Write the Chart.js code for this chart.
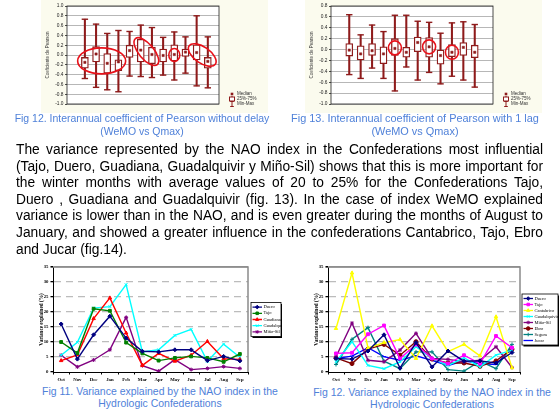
<!DOCTYPE html>
<html>
<head>
<meta charset="utf-8">
<script src="https://cdn.jsdelivr.net/npm/chart.js@4.4.0/dist/chart.umd.min.js"></script>
<style>
  body { margin: 0; width: 559px; height: 409px; background: #fff; position: relative; overflow: hidden;
         font-family: Arial, "Liberation Sans", sans-serif; }
  canvas { position: absolute; }
  .cap { position: absolute; color: #4f81d9; text-align: center; white-space: nowrap; }
  #para { position: absolute; left: 16px; top: 142px; width: 527px; line-height: 16.6px; color: #000; }
  #para div { text-align: justify; text-align-last: justify; }
  #para div.last { text-align-last: left; }
</style>
</head>
<body>
<canvas id="pearson0" width="227" height="113" style="left:41px;top:0px"></canvas>
<canvas id="pearson1" width="237" height="113" style="left:305px;top:0px"></canvas>
<div class="cap" id="capA" style="left:0;width:284px;top:112px;line-height:13px">Fig 12. Interannual coefficient of Pearson without delay<br>(WeMO vs Qmax)</div>
<div class="cap" id="capB" style="left:274px;width:282px;top:112px;line-height:13px">Fig 13. Interannual coefficient of Pearson with 1 lag<br>(WeMO vs Qmax)</div>

<div id="para">
  <div>The variance represented by the NAO index in the Confederations most influential</div>
  <div>(Tajo, Duero, Guadiana, Guadalquivir y Miño-Sil) shows that this is more important for</div>
  <div>the winter months with average values of 20 to 25% for the Confederations Tajo,</div>
  <div>Duero , Guadiana and Guadalquivir (fig. 13). In the case of index WeMO explained</div>
  <div>variance is lower than in the NAO, and is even greater during the months of August to</div>
  <div>January, and showed a greater influence in the confederations Cantabrico, Tajo, Ebro</div>
  <div class="last">and Jucar (fig.14).</div>
</div>

<canvas id="naoA" width="262" height="124" style="left:20px;top:262px"></canvas>
<canvas id="naoB" width="269" height="124" style="left:290px;top:262px"></canvas>
<div class="cap" id="capC" style="left:20px;width:280px;top:386px;line-height:12px">Fig 11. Variance explained by the NAO index in the<br>Hydrologic Confederations</div>
<div class="cap" id="capD" style="left:292px;width:280px;top:386px;line-height:12px">Fig 12. Variance explained by the NAO index in the<br>Hydrologic Confederations</div>

<script>
// month labels
const monthsEs = ['Oct', 'Nov', 'Dic', 'Ene', 'Feb', 'Mar', 'Abr', 'May', 'Jun', 'Jul', 'Ago', 'Sep'];
const monthsEn = ['Oct', 'Nov', 'Dec', 'Jan', 'Feb', 'Mar', 'Apr', 'May', 'Jun', 'Jul', 'Aug', 'Sep'];

// Fig 12 (top) - Pearson coefficient without delay
const lag0Min = [-0.48, -0.66, -0.71, -0.75, -0.43, -0.44, -0.46, -0.41, -0.51, -0.37, -0.63, -0.67];
const lag0Q1  = [-0.27, -0.14, -0.37, -0.32, -0.05, -0.14, -0.18, -0.14, -0.12, -0.03, -0.10, -0.27];
const lag0Med = [-0.15, 0.02, -0.17, -0.14, 0.09, 0.10, 0.01, -0.01, 0.01, 0.06, 0.05, -0.13];
const lag0Q3  = [-0.05, 0.17, 0.03, -0.10, 0.20, 0.32, 0.16, 0.12, 0.21, 0.12, 0.21, -0.05];
const lag0Max = [0.73, 0.63, 0.44, 0.50, 0.48, 0.61, 0.56, 0.36, 0.47, 0.37, 0.80, 0.37];

// Fig 13 - Pearson coefficient with 1 lag
const lag1Min = [-0.46, -0.53, -0.34, -0.53, -0.76, -0.32, -0.56, -0.42, -0.63, -0.49, -0.56, -0.69];
const lag1Q1  = [-0.12, -0.19, -0.11, -0.26, -0.11, -0.14, -0.04, -0.14, -0.27, -0.13, -0.11, -0.15];
const lag1Med = [-0.01, -0.08, -0.02, -0.08, 0.02, -0.05, 0.13, 0.05, -0.11, -0.05, 0.04, -0.05];
const lag1Q3  = [0.11, 0.07, 0.11, 0.05, 0.20, 0.04, 0.23, 0.22, -0.01, 0.09, 0.13, 0.08];
const lag1Max = [0.64, 0.27, 0.45, 0.33, 0.63, 0.63, 0.52, 0.50, 0.30, 0.49, 0.51, 0.46];

// Fig 11 - variance explained by NAO (%)
const naoDuero        = [16.0, 4.3, 12.4, 18.6, 11.3, 6.9, 6.7, 7.4, 7.4, 3.8, 5.2, 3.7];
const naoTajo         = [10.0, 6.3, 21.1, 20.4, 9.8, 6.2, 3.8, 4.7, 5.2, 4.7, 3.4, 6.0];
const naoGuadiana     = [3.8, 5.7, 17.8, 24.7, 13.0, 2.2, 6.2, 3.6, 5.6, 10.2, 4.4, 4.2];
const naoGuadalquivir = [5.6, 9.9, 21.3, 21.8, 29.1, 6.7, 7.4, 12.2, 14.2, 3.6, 9.3, 4.9];
const naoMinoSil      = [5.6, 1.7, 4.0, 7.4, 18.2, 2.1, 0.3, 4.1, 0.8, 1.2, 1.8, 1.2];

// second Fig 12 - variance explained, all confederations (%)
const wDuero        = [4.5, 4.3, 7.0, 12.4, 1.3, 9.8, 1.7, 7.0, 3.6, 3.7, 3.0, 6.5];
const wTajo         = [6.2, 6.4, 12.6, 15.5, 4.5, 9.2, 4.5, 2.8, 5.6, 2.8, 12.0, 8.1];
const wCantabrico   = [14.5, 33.0, 8.0, 9.8, 10.8, 4.5, 15.4, 6.8, 9.2, 5.4, 18.4, 1.4];
const wGuadalquivir = [3.4, 10.1, 2.2, 1.1, 3.4, 8.4, 4.5, 2.2, 4.7, 1.7, 5.6, 7.3];
const wMinoSil      = [5.1, 16.3, 3.9, 3.4, 7.3, 12.9, 4.5, 4.2, 3.4, 3.9, 8.4, 1.5];
const wEbro         = [4.7, 2.8, 7.6, 9.2, 5.6, 10.1, 4.3, 3.0, 3.0, 1.9, 3.7, 7.6];
const wSegura       = [2.5, 10.9, 14.8, 3.6, 1.1, 6.7, 6.7, 0.8, 0.3, 3.6, 1.1, 9.2];
const wJucar        = [4.5, 5.3, 8.1, 5.1, 3.9, 5.4, 3.9, 2.2, 3.7, 2.8, 2.5, 8.1];

const BOX = '#8e1b1b';

// --- fit text to the page widths ---
function textWidth(str, px) {
  const c = document.createElement('canvas').getContext('2d');
  c.font = px + 'px Arial, "Liberation Sans"';
  return c.measureText(str).width;
}
const paraLines = [...document.querySelectorAll('#para div')].map(d => d.textContent);
let paraSize = Math.min(...paraLines.slice(0, 6).map(t => 100 * 527 / textWidth(t, 100))) * 0.99;
document.getElementById('para').style.fontSize = paraSize.toFixed(2) + 'px';
function fitCap(id, target) {
  const el = document.getElementById(id);
  const first = el.innerHTML.split('<br>')[0];
  el.style.fontSize = (100 * target / textWidth(first, 100)).toFixed(2) + 'px';
}
fitCap('capA', 255); fitCap('capB', 248); fitCap('capC', 236); fitCap('capD', 238);

// --- plugins ---
const bg = {
  id: 'bg',
  beforeDraw(chart, args, o) {
    const { ctx, chartArea: a } = chart;
    ctx.save();
    if (o.outer) { ctx.fillStyle = o.outer; ctx.fillRect(0, 0, chart.width, chart.height); }
    ctx.fillStyle = '#fff';
    ctx.fillRect(a.left, a.top, a.right - a.left, a.bottom - a.top);
    ctx.restore();
  },
  afterDatasetsDraw(chart, args, o) {
    const { ctx, chartArea: a } = chart;
    ctx.save();
    ctx.strokeStyle = o.frame; ctx.lineWidth = o.frameWidth;
    if (o.full) {
      ctx.strokeRect(a.left, a.top, a.right - a.left, a.bottom - a.top);
    } else {
      ctx.beginPath(); ctx.moveTo(a.left, a.top); ctx.lineTo(a.right, a.top); ctx.lineTo(a.right, a.bottom); ctx.stroke();
    }
    ctx.restore();
  }
};

const rings = {
  id: 'rings',
  afterDatasetsDraw(chart, args, o) {
    const { ctx, scales: { x, y } } = chart;
    ctx.save();
    ctx.strokeStyle = '#e8111a'; ctx.lineWidth = 1.6;
    (o.items || []).forEach(e => {
      ctx.beginPath();
      ctx.ellipse(x.getPixelForValue(e.x), y.getPixelForValue(e.y), e.rx, e.ry, e.rot * Math.PI / 180, 0, Math.PI * 2);
      ctx.stroke();
    });
    ctx.restore();
  }
};

const boxKey = {
  id: 'boxKey',
  afterDraw(chart) {
    const { ctx, chartArea: a } = chart;
    const x = a.right + 13;
    const rows = [a.bottom - 10, a.bottom - 5, a.bottom];
    ctx.save();
    ctx.fillStyle = BOX; ctx.strokeStyle = BOX; ctx.lineWidth = 1;
    ctx.fillRect(x - 1.3, rows[0] - 1.3, 2.6, 2.6);
    ctx.beginPath(); ctx.moveTo(x, rows[1] - 3); ctx.lineTo(x, rows[1] + 3); ctx.stroke();
    ctx.fillStyle = '#fff'; ctx.fillRect(x - 2.5, rows[1] - 2, 5, 4); ctx.strokeRect(x - 2.5, rows[1] - 2, 5, 4);
    ctx.beginPath();
    ctx.moveTo(x, rows[2] - 2.5); ctx.lineTo(x, rows[2] + 2.5);
    ctx.moveTo(x - 1.8, rows[2] - 2.5); ctx.lineTo(x + 1.8, rows[2] - 2.5);
    ctx.moveTo(x - 1.8, rows[2] + 2.5); ctx.lineTo(x + 1.8, rows[2] + 2.5);
    ctx.stroke();
    ctx.fillStyle = '#333'; ctx.font = '4.5px Arial'; ctx.textBaseline = 'middle';
    ['Median', '25%-75%', 'Min-Max'].forEach((t, i) => ctx.fillText(t, x + 5, rows[i]));
    ctx.restore();
  }
};

const lineKey = {
  id: 'lineKey',
  afterDraw(chart, args, o) {
    const { ctx, chartArea: a } = chart;
    const sets = chart.data.datasets;
    const h = sets.length * o.row + 3;
    const x0 = a.right + o.dx, y0 = (a.top + a.bottom) / 2 - h / 2;
    ctx.save();
    ctx.fillStyle = '#000'; ctx.fillRect(x0 + 1.5, y0 + 1.5, o.w, h);
    ctx.fillStyle = '#fff'; ctx.fillRect(x0, y0, o.w, h);
    ctx.strokeStyle = '#000'; ctx.lineWidth = 0.8; ctx.strokeRect(x0, y0, o.w, h);
    ctx.beginPath(); ctx.rect(x0, y0, o.w, h); ctx.clip();
    ctx.font = '4.5px "Liberation Serif"'; ctx.textBaseline = 'middle';
    sets.forEach((d, i) => {
      const yy = y0 + 1.5 + o.row * (i + 0.5);
      ctx.strokeStyle = d.borderColor; ctx.fillStyle = d.backgroundColor; ctx.lineWidth = 1.3;
      ctx.beginPath(); ctx.moveTo(x0 + 1.5, yy); ctx.lineTo(x0 + 11, yy); ctx.stroke();
      ctx.lineWidth = 1;
      Chart.helpers.drawPoint(ctx, { pointStyle: d.pointStyle, radius: 1.8, borderWidth: 1, rotation: 0 }, x0 + 6.2, yy);
      ctx.fillStyle = '#000';
      ctx.fillText(d.label, x0 + 12.5, yy);
    });
    ctx.restore();
  }
};

// --- box plot charts ---
function boxChart(id, mn, q1, med, q3, mx, yMax, xMax, ellipses) {
  const pts = arr => arr.map((v, i) => ({ x: i + 1, y: v }));
  const span = (lo, hi) => lo.map((v, i) => ({ x: i + 1, y: [v, hi[i]] }));
  return new Chart(document.getElementById(id), {
    type: 'bar',
    data: {
      datasets: [
        { type: 'bar', data: span(mn, mx), backgroundColor: BOX, barThickness: 1.4, grouped: false, order: 5 },
        { type: 'bar', data: span(q1, q3), backgroundColor: '#fff', borderColor: BOX, borderWidth: 1.3,
          borderSkipped: false, barThickness: 7, grouped: false, order: 4 },
        { type: 'line', data: pts(mn), showLine: false, pointStyle: 'line', pointRadius: 3.2,
          borderColor: BOX, pointBorderWidth: 1.4, order: 3 },
        { type: 'line', data: pts(mx), showLine: false, pointStyle: 'line', pointRadius: 3.2,
          borderColor: BOX, pointBorderWidth: 1.4, order: 3 },
        { type: 'line', data: pts(med), showLine: false, pointStyle: 'rect', pointRadius: 1.6,
          backgroundColor: BOX, borderColor: BOX, pointBorderWidth: 0.5, order: 1 }
      ]
    },
    options: {
      responsive: false,
      animation: false,
      layout: { padding: { left: 4, right: 49, top: 6, bottom: 0 } },
      plugins: {
        legend: { display: false }, tooltip: { enabled: false },
        bg: { outer: '#fbfbee', frame: '#222', frameWidth: 0.8, full: true },
        rings: { items: ellipses }
      },
      scales: {
        x: {
          type: 'linear', min: -0.6, max: xMax, offset: false,
          afterBuildTicks: s => { s.ticks = monthsEs.map((m, i) => ({ value: i + 1 })); },
          afterFit: s => { s.height = 9; },
          grid: { display: false }, border: { display: false },
          ticks: { autoSkip: false, maxRotation: 0, padding: 1, color: '#222', font: { size: 4.8, family: 'Arial' },
                   callback: v => monthsEs[v - 1] }
        },
        y: {
          min: -1, max: yMax,
          afterFit: s => { s.width = 22; },
          grid: { color: '#a5a5a5', lineWidth: 0.8, tickLength: 2, tickColor: '#222' },
          border: { display: false },
          title: { display: true, text: 'Coeficiente de Pearson', color: '#333', padding: 0,
                   font: { size: 4.5, family: 'Arial' } },
          ticks: { stepSize: 0.2, padding: 1.5, color: '#222', font: { size: 4.8, family: 'Arial' },
                   callback: v => Math.abs(v) < 1e-9 ? '0.0' : v.toFixed(1) }
        }
      }
    },
    plugins: [bg, rings, boxKey]
  });
}

boxChart('pearson0', lag0Min, lag0Q1, lag0Med, lag0Q3, lag0Max, 1, 13.0, [
  { x: 2.5, y: -0.12, rx: 24, ry: 13, rot: 0 },
  { x: 6.5, y: 0.07, rx: 17, ry: 7.5, rot: 50 },
  { x: 9, y: 0.0, rx: 5.5, ry: 6.5, rot: 0 },
  { x: 11.5, y: 0.0, rx: 16, ry: 8, rot: 35 }
]);
boxChart('pearson1', lag1Min, lag1Q1, lag1Med, lag1Q3, lag1Max, 0.8, 13.6, [
  { x: 5, y: 0.03, rx: 6.5, ry: 7, rot: 0 },
  { x: 8, y: 0.05, rx: 6.5, ry: 7, rot: 0 },
  { x: 10, y: -0.05, rx: 6.5, ry: 7, rot: 0 }
]);

// --- variance line charts ---
function lineChart(id, series, padLeft, yWidth, padRight, key) {
  const isTop = c => c.tick && c.tick.value === 35;
  return new Chart(document.getElementById(id), {
    type: 'line',
    data: {
      labels: monthsEn,
      datasets: series.map(s => ({
        label: s.label, data: s.data, borderColor: s.color, backgroundColor: s.color,
        pointStyle: s.marker, pointRadius: 2, pointBorderWidth: 1, borderWidth: 1.4, tension: 0
      }))
    },
    options: {
      responsive: false,
      animation: false,
      layout: { padding: { left: padLeft, right: padRight, top: 5, bottom: 0 } },
      plugins: {
        legend: { display: false }, tooltip: { enabled: false },
        bg: { frame: '#8a8a8a', frameWidth: 1.5, full: false },
        lineKey: key
      },
      scales: {
        x: {
          offset: true,
          afterFit: s => { s.height = 14; },
          grid: { drawOnChartArea: false, offset: true, tickLength: 2.5, tickColor: '#000' },
          border: { color: '#000', width: 1 },
          ticks: { maxRotation: 0, autoSkip: false, padding: 2, color: '#000',
                   font: { size: 4.8, family: '"Liberation Serif"', weight: 'bold' } }
        },
        y: {
          min: 0, max: 35,
          afterFit: s => { s.width = yWidth; },
          grid: {
            color: c => c.tick && c.tick.value === 0 ? 'rgba(0,0,0,0)' : (isTop(c) ? '#9a9a9a' : '#bcbcbc'),
            lineWidth: c => isTop(c) ? 1.6 : 1.3,
            tickLength: 2.5, tickColor: '#000'
          },
          border: { color: '#000', width: 1, dash: c => isTop(c) ? [] : [7, 5] },
          title: { display: true, text: 'Variance explained (%)', color: '#000', padding: 1,
                   font: { size: 5.2, family: '"Liberation Serif"', weight: 'bold' } },
          ticks: { stepSize: 5, padding: 2, color: '#000',
                   font: { size: 4.8, family: '"Liberation Serif"', weight: 'bold' } }
        }
      }
    },
    plugins: [bg, lineKey]
  });
}

lineChart('naoA', [
  { label: 'Duero', data: naoDuero, color: '#000080', marker: 'rectRot' },
  { label: 'Tajo', data: naoTajo, color: '#008000', marker: 'rect' },
  { label: 'Guadiana', data: naoGuadiana, color: '#ff0000', marker: 'triangle' },
  { label: 'Guadalquivir', data: naoGuadalquivir, color: '#00ffff', marker: 'crossRot' },
  { label: 'Miño-Sil', data: naoMinoSil, color: '#800080', marker: 'star' }
], 18, 15, 34, { dx: 3, w: 30, row: 6.2 });

lineChart('naoB', [
  { label: 'Duero', data: wDuero, color: '#000080', marker: 'rectRot' },
  { label: 'Tajo', data: wTajo, color: '#ff00ff', marker: 'rect' },
  { label: 'Cantabrico', data: wCantabrico, color: '#ffff00', marker: 'triangle' },
  { label: 'Guadalquivir', data: wGuadalquivir, color: '#00ffff', marker: 'crossRot' },
  { label: 'Miño-Sil', data: wMinoSil, color: '#800080', marker: 'star' },
  { label: 'Ebro', data: wEbro, color: '#800000', marker: 'circle' },
  { label: 'Segura', data: wSegura, color: '#008080', marker: 'cross' },
  { label: 'Jucar', data: wJucar, color: '#0000ff', marker: 'line' }
], 23, 15, 39, { dx: 2, w: 36, row: 6 });
</script>
</body>
</html>
